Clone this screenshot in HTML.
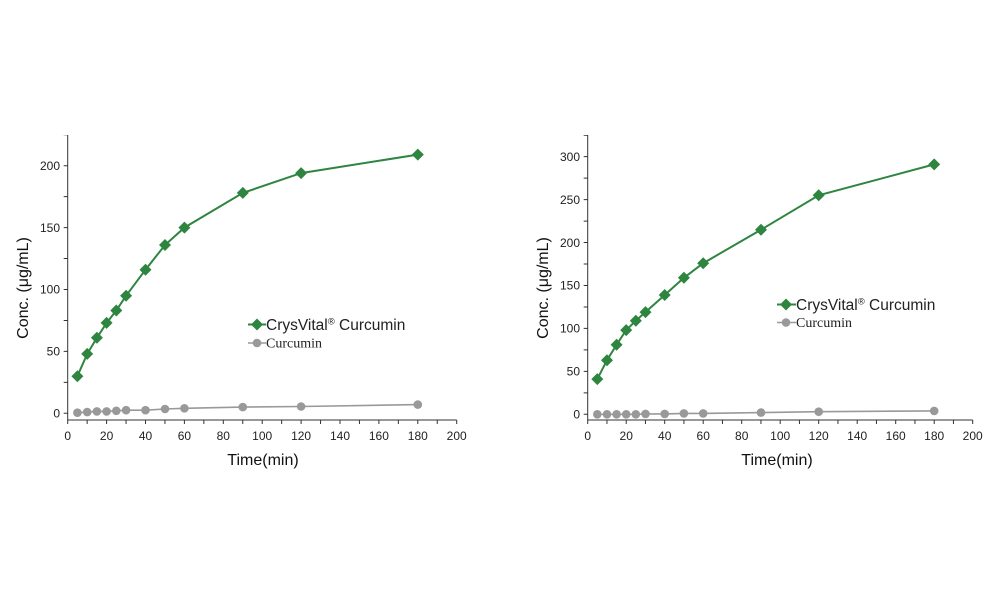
<!DOCTYPE html>
<html><head><meta charset="utf-8"><style>
html,body{margin:0;padding:0;background:#fff}
svg{display:block}
.t{font-family:"Liberation Sans",sans-serif;font-size:12px;fill:#222}
.ti{font-family:"Liberation Sans",sans-serif;font-size:16px;fill:#111}
.lg{font-family:"Liberation Sans",sans-serif;font-size:15.5px;fill:#222}
.ls{font-family:"Liberation Serif",serif;font-size:14px;fill:#222}
</style></head><body>
<svg width="1000" height="601" viewBox="0 0 1000 601" xmlns="http://www.w3.org/2000/svg">
<defs>
<path id="d" d="M0,-6 L6,0 L0,6 L-6,0 Z" fill="#2e8540"/>
<circle id="c" r="4.3" fill="#999"/>
</defs>
<!-- LEFT -->
<g stroke="#333" fill="none">
<line x1="67.7" y1="135" x2="67.7" y2="420"/>
<line x1="67.7" y1="420" x2="456.7" y2="420"/>
<line x1="67.2" y1="422" x2="458" y2="422" stroke-width="4" stroke-dasharray="1 18.45"/>
<line x1="65.7" y1="413.8" x2="65.7" y2="135" stroke-width="4" stroke-dasharray="1 29.95"/>
</g>
<g class="t" text-anchor="middle">
<text x="67.7" y="440">0</text><text x="106.6" y="440">20</text><text x="145.5" y="440">40</text><text x="184.4" y="440">60</text><text x="223.3" y="440">80</text><text x="262.2" y="440">100</text><text x="301.1" y="440">120</text><text x="340" y="440">140</text><text x="378.9" y="440">160</text><text x="417.8" y="440">180</text><text x="456.7" y="440">200</text>
</g>
<g class="t" text-anchor="end">
<text x="60" y="417.5">0</text><text x="60" y="355.6">50</text><text x="60" y="293.7">100</text><text x="60" y="231.8">150</text><text x="60" y="169.9">200</text>
</g>
<text class="ti" x="263" y="465" text-anchor="middle">Time(min)</text>
<text class="ti" transform="translate(28,288) rotate(-90)" text-anchor="middle">Conc.  (μg/mL)</text>
<polyline fill="none" stroke="#999" stroke-width="1.6" points="77.4,412.7 87.2,412.1 96.9,411.4 106.6,411.4 116.3,410.8 126.1,410.2 145.5,410.2 165,409 184.4,408.3 242.8,407.1 301.1,406.5 417.8,404.6"/>
<g><use href="#c" x="77.4" y="412.7"/><use href="#c" x="87.2" y="412.1"/><use href="#c" x="96.9" y="411.4"/><use href="#c" x="106.6" y="411.4"/><use href="#c" x="116.3" y="410.8"/><use href="#c" x="126.1" y="410.2"/><use href="#c" x="145.5" y="410.2"/><use href="#c" x="165" y="409"/><use href="#c" x="184.4" y="408.3"/><use href="#c" x="242.8" y="407.1"/><use href="#c" x="301.1" y="406.5"/><use href="#c" x="417.8" y="404.6"/></g>
<polyline fill="none" stroke="#2e8540" stroke-width="2" points="77.4,376.2 87.2,353.9 96.9,337.8 106.6,322.9 116.3,310.5 126.1,295.7 145.5,269.7 165,245 184.4,227.6 242.8,192.9 301.1,173.1 417.8,154.6"/>
<g><use href="#d" x="77.4" y="376.2"/><use href="#d" x="87.2" y="353.9"/><use href="#d" x="96.9" y="337.8"/><use href="#d" x="106.6" y="322.9"/><use href="#d" x="116.3" y="310.5"/><use href="#d" x="126.1" y="295.7"/><use href="#d" x="145.5" y="269.7"/><use href="#d" x="165" y="245"/><use href="#d" x="184.4" y="227.6"/><use href="#d" x="242.8" y="192.9"/><use href="#d" x="301.1" y="173.1"/><use href="#d" x="417.8" y="154.6"/></g>
<line x1="248" y1="324.5" x2="266" y2="324.5" stroke="#2e8540" stroke-width="2"/><use href="#d" x="257" y="324.5"/>
<text class="lg" x="266" y="330">CrysVital<tspan font-size="9.5" dy="-5.5">®</tspan><tspan dy="5.5"> Curcumin</tspan></text>
<line x1="248" y1="343" x2="266" y2="343" stroke="#999" stroke-width="1.5"/><use href="#c" x="257" y="343"/>
<text class="ls" x="266" y="347.5">Curcumin</text>

<!-- RIGHT -->
<g stroke="#333" fill="none">
<line x1="587.7" y1="135" x2="587.7" y2="420"/>
<line x1="587.7" y1="420" x2="972.7" y2="420"/>
<line x1="587.2" y1="422" x2="974" y2="422" stroke-width="4" stroke-dasharray="1 18.25"/>
<line x1="585.7" y1="414.8" x2="585.7" y2="135" stroke-width="4" stroke-dasharray="1 20.47"/>
</g>
<g class="t" text-anchor="middle">
<text x="587.7" y="440">0</text><text x="626.2" y="440">20</text><text x="664.7" y="440">40</text><text x="703.2" y="440">60</text><text x="741.7" y="440">80</text><text x="780.2" y="440">100</text><text x="818.7" y="440">120</text><text x="857.2" y="440">140</text><text x="895.7" y="440">160</text><text x="934.2" y="440">180</text><text x="972.7" y="440">200</text>
</g>
<g class="t" text-anchor="end">
<text x="580" y="418.5">0</text><text x="580" y="375.6">50</text><text x="580" y="332.6">100</text><text x="580" y="289.7">150</text><text x="580" y="246.8">200</text><text x="580" y="203.8">250</text><text x="580" y="160.9">300</text>
</g>
<text class="ti" x="777" y="465" text-anchor="middle">Time(min)</text>
<text class="ti" transform="translate(548,288) rotate(-90)" text-anchor="middle">Conc.  (μg/mL)</text>
<polyline fill="none" stroke="#999" stroke-width="1.6" points="597.3,414.3 607,414.3 616.6,414.3 626.2,414.3 635.8,414.3 645.5,413.9 664.7,413.9 683.9,413.4 703.2,413.4 761,412.6 818.7,411.7 934.2,410.9"/>
<g><use href="#c" x="597.3" y="414.3"/><use href="#c" x="607" y="414.3"/><use href="#c" x="616.6" y="414.3"/><use href="#c" x="626.2" y="414.3"/><use href="#c" x="635.8" y="414.3"/><use href="#c" x="645.5" y="413.9"/><use href="#c" x="664.7" y="413.9"/><use href="#c" x="683.9" y="413.4"/><use href="#c" x="703.2" y="413.4"/><use href="#c" x="761" y="412.6"/><use href="#c" x="818.7" y="411.7"/><use href="#c" x="934.2" y="410.9"/></g>
<polyline fill="none" stroke="#2e8540" stroke-width="2" points="597.3,379.1 607,360.2 616.6,344.7 626.2,330.1 635.8,320.7 645.5,312.1 664.7,295 683.9,277.8 703.2,263.2 761,229.7 818.7,195.3 934.2,164.4"/>
<g><use href="#d" x="597.3" y="379.1"/><use href="#d" x="607" y="360.2"/><use href="#d" x="616.6" y="344.7"/><use href="#d" x="626.2" y="330.1"/><use href="#d" x="635.8" y="320.7"/><use href="#d" x="645.5" y="312.1"/><use href="#d" x="664.7" y="295"/><use href="#d" x="683.9" y="277.8"/><use href="#d" x="703.2" y="263.2"/><use href="#d" x="761" y="229.7"/><use href="#d" x="818.7" y="195.3"/><use href="#d" x="934.2" y="164.4"/></g>
<line x1="777" y1="304.5" x2="796" y2="304.5" stroke="#2e8540" stroke-width="2"/><use href="#d" x="786" y="304.5"/>
<text class="lg" x="796" y="310">CrysVital<tspan font-size="9.5" dy="-5.5">®</tspan><tspan dy="5.5"> Curcumin</tspan></text>
<line x1="777" y1="322.5" x2="796" y2="322.5" stroke="#999" stroke-width="1.5"/><use href="#c" x="786" y="322.5"/>
<text class="ls" x="796" y="327">Curcumin</text>
</svg>
</body></html>
